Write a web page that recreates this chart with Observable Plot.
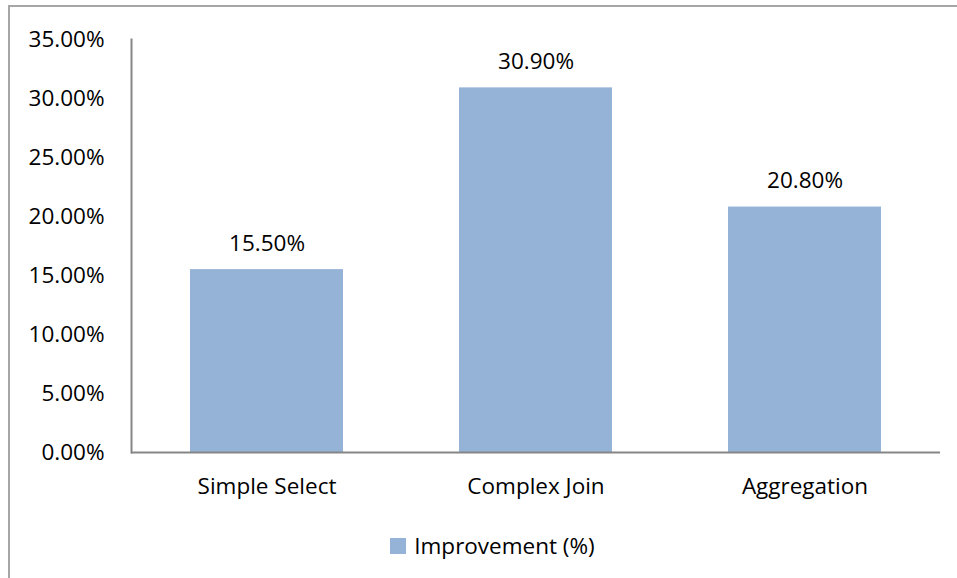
<!DOCTYPE html>
<html>
<head>
<meta charset="utf-8">
<script src="https://cdn.jsdelivr.net/npm/d3@7"></script>
<script src="https://cdn.jsdelivr.net/npm/@observablehq/plot@0.6"></script>
<style>
  html, body { margin: 0; padding: 0; background: #fff; width: 957px; height: 578px; overflow: hidden; }
  #frame { position: absolute; left: 8px; top: 5px; width: 1200px; height: 1200px; border: 2px solid #a6a6a6; box-sizing: border-box; }
  #chart { position: absolute; left: 0; top: 0; font-family: "Open Sans", sans-serif; }
  #legend { position: absolute; left: 0; top: 530px; width: 985px; display: flex; justify-content: center; align-items: center; font-size: 22.5px; line-height: 32px; color: #000; font-family: "Open Sans", sans-serif; }
  #legend .sw { width: 16px; height: 16px; background: #95b3d7; margin-right: 8px; }
</style>
</head>
<body>
<div id="frame"></div>
<div id="chart"></div>
<script>
const categories = ["Simple Select", "Complex Join", "Aggregation"];
const values = [15.5, 30.9, 20.8];
const yTicks = [0, 5, 10, 15, 20, 25, 30, 35];
const seriesName = "Improvement (%)";

const data = categories.map((c, i) => ({category: c, value: values[i]}));

const FS = 22.5;
const plot = Plot.plot({
  width: 957,
  height: 525,
  marginLeft: 131,
  marginRight: 17,
  marginTop: 39,
  marginBottom: 73,
  style: {fontFamily: "Open Sans, sans-serif", fontSize: FS + "px", color: "#000", background: "transparent"},
  x: {domain: categories, paddingInner: 0.43, paddingOuter: 0.215, label: null},
  y: {domain: [0, 35], label: null},
  marks: [
    Plot.barY(data, {x: "category", y: "value", fill: "#95b3d7"}),
    Plot.axisY({ticks: yTicks, tickSize: 0, tickPadding: 27, tickFormat: d => d.toFixed(2) + "%", label: null, fontSize: FS}),
    Plot.axisX({tickSize: 0, tickPadding: 26, label: null, fontSize: FS}),
    Plot.frame({anchor: "left", stroke: "#868686", strokeWidth: 2, strokeOpacity: 1}),
    Plot.ruleY([0], {stroke: "#868686", strokeWidth: 2}),
    Plot.text(data, {x: "category", y: "value", text: d => d.value.toFixed(2) + "%", dy: -26, fontSize: FS, fill: "#000"})
  ]
});
document.getElementById("chart").appendChild(plot);
const lg = document.createElement("div");
lg.id = "legend";
lg.innerHTML = `<span class="sw"></span><span>${seriesName}</span>`;
document.getElementById("chart").appendChild(lg);
</script>
</body>
</html>
